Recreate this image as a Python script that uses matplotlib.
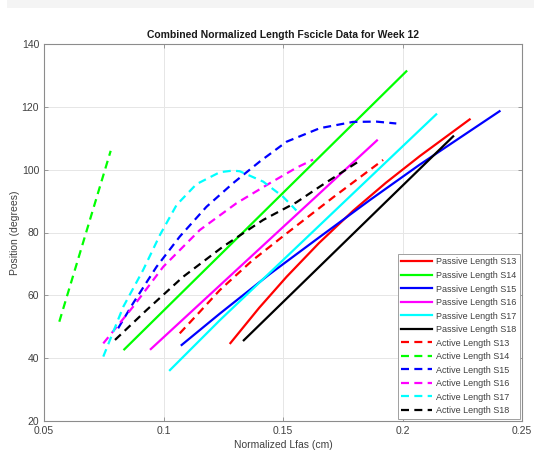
import matplotlib
matplotlib.use("Agg")
import matplotlib.pyplot as plt
from matplotlib.patches import Rectangle

plt.rcParams['font.family'] = ['Liberation Sans', 'DejaVu Sans']

# Passive lengths (solid)
p13_x = [0.128, 0.140, 0.1515, 0.165, 0.1793, 0.193, 0.2072, 0.2281]
p13_y = [44.8, 56.0, 65.9, 76.6, 86.9, 95.8, 104.3, 116.0]
p14_x = [0.0836, 0.2016]
p14_y = [42.8, 131.3]
p15_x = [0.1076, 0.1236, 0.1445, 0.1654, 0.1863, 0.2072, 0.2406]
p15_y = [44.2, 54.2, 66.8, 78.6, 90.3, 101.6, 118.6]
p16_x = [0.0947, 0.1893]
p16_y = [42.9, 109.3]
p17_x = [0.1027, 0.1236, 0.2141]
p17_y = [36.2, 52.1, 117.6]
p18_x = [0.1336, 0.2212]
p18_y = [45.7, 110.6]

# Active lengths (dashed)
a13_x = [0.1068, 0.115, 0.1236, 0.137, 0.1515, 0.171, 0.1919]
a13_y = [47.9, 54.6, 61.7, 71.0, 79.7, 91.2, 103.1]
a14_x = [0.0564, 0.0779]
a14_y = [51.6, 106.0]
a15_x = [0.0810, 0.0873, 0.0971, 0.1068, 0.1180, 0.1291, 0.1403, 0.1515, 0.1654, 0.1793, 0.1890, 0.1974]
a15_y = [49.5, 57.5, 69.1, 78.7, 88.2, 95.7, 102.6, 108.9, 113.2, 115.2, 115.3, 114.7]
a16_x = [0.0748, 0.0873, 0.0999, 0.1152, 0.1305, 0.1445, 0.1556, 0.1626]
a16_y = [44.7, 56.4, 69.1, 80.8, 89.3, 95.7, 100.6, 103.2]
a17_x = [0.0748, 0.0832, 0.0915, 0.0985, 0.1055, 0.1138, 0.1236, 0.1290, 0.1319, 0.1417, 0.1500, 0.1556]
a17_y = [40.5, 56.4, 68.1, 79.2, 88.8, 95.4, 99.2, 99.7, 99.5, 96.2, 91.4, 87.0]
a18_x = [0.0797, 0.0929, 0.1082, 0.1249, 0.1417, 0.1556, 0.1654, 0.1810]
a18_y = [45.8, 55.3, 65.9, 75.5, 84.0, 89.6, 94.6, 102.3]

subjects = ['S13', 'S14', 'S15', 'S16', 'S17', 'S18']
colors = ['#ff0000', '#00ff00', '#0000ff', '#ff00ff', '#00ffff', '#000000']
passive = [(p13_x, p13_y), (p14_x, p14_y), (p15_x, p15_y), (p16_x, p16_y), (p17_x, p17_y), (p18_x, p18_y)]
active = [(a13_x, a13_y), (a14_x, a14_y), (a15_x, a15_y), (a16_x, a16_y), (a17_x, a17_y), (a18_x, a18_y)]

x_ticks = [0.05, 0.1, 0.15, 0.2, 0.25]
x_ticklabels = ['0.05', '0.1', '0.15', '0.2', '0.25']
y_ticks = [20, 40, 60, 80, 100, 120, 140]

fig = plt.figure(figsize=(5.34, 4.67), dpi=100)
fig.patches.append(Rectangle((7 / 534, 1 - 8 / 467), 1, 8 / 467, transform=fig.transFigure,
                             facecolor='#f4f4f4', edgecolor='none', zorder=0))
ax = fig.add_axes([44 / 534, 46 / 467, 478 / 534, 377 / 467])

for (x, y), c, s in zip(passive, colors, subjects):
    ax.plot(x, y, color=c, lw=1.6, label='Passive Length ' + s, solid_joinstyle='round')
for (x, y), c, s in zip(active, colors, subjects):
    ax.plot(x, y, color=c, lw=1.6, ls=(0, (3.6, 2.4)), label='Active Length ' + s)

ax.set_xlim(0.05, 0.25)
ax.set_ylim(20, 140)
ax.set_xticks(x_ticks)
ax.set_xticklabels(x_ticklabels)
ax.set_yticks(y_ticks)
ax.grid(True, color='#e6e6e6', lw=0.7)
ax.set_axisbelow(True)
for sp in ax.spines.values():
    sp.set_color('#8c8c8c')
    sp.set_linewidth(0.8)
ax.tick_params(direction='in', length=3, width=0.6, colors='#8c8c8c', labelcolor='#404040',
               labelsize=7.5, top=True, right=True)

ax.set_title('Combined Normalized Length Fscicle Data for Week 12', fontsize=7.5,
             fontweight='bold', color='#1a1a1a', pad=4)
ax.set_xlabel('Normalized Lfas (cm)', fontsize=7.5, color='#404040', labelpad=3)
ax.set_ylabel('Position (degrees)', fontsize=7.5, color='#404040', labelpad=1)

leg = ax.legend(loc='lower right', fontsize=6.5, frameon=True, fancybox=False,
                edgecolor='#a0a0a0', framealpha=1, borderaxespad=0.25,
                handlelength=3.4, labelspacing=0.5, handletextpad=0.4, borderpad=0.4)
leg.get_frame().set_linewidth(0.7)
for t in leg.get_texts():
    t.set_color('#404040')

fig.savefig('out.png', dpi=100)
